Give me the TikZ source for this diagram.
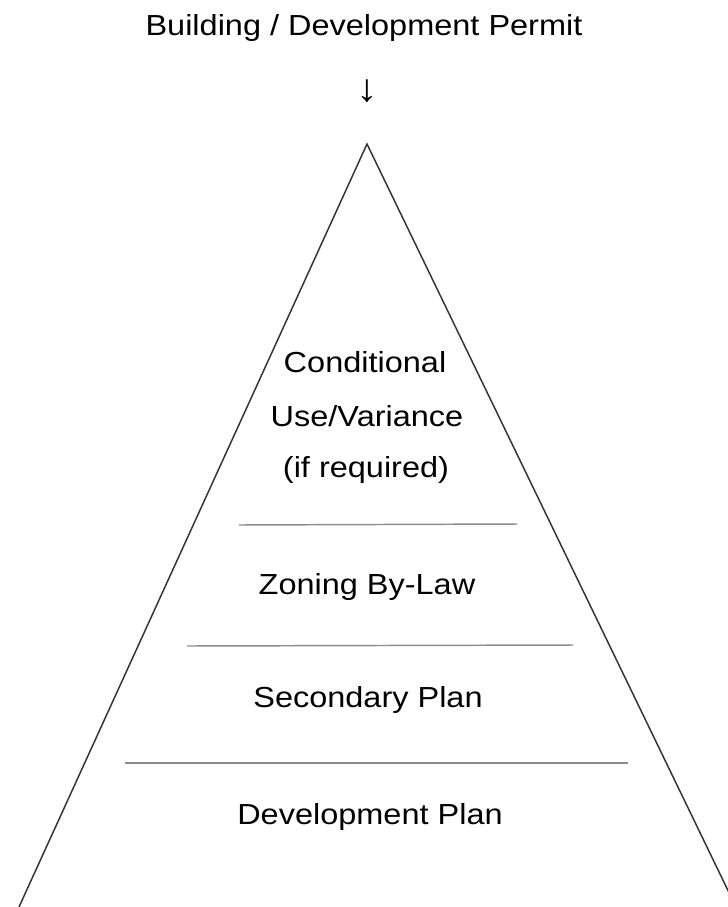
\documentclass[tikz,border=0pt]{standalone}
\usepackage{fontspec}
\setmainfont[FakeStretch=1.12]{Liberation Sans}
\begin{document}
\begin{tikzpicture}[x=0.75pt,y=-0.75pt,
  label/.style={font=\fontsize{21.75pt}{26pt}\selectfont, text=black, inner sep=0pt, anchor=base},
  side/.style={draw=black!80, line width=1.1pt},
  divider/.style={draw=black!45, line width=1.1pt}]
  \useasboundingbox[fill=white] (0,0) rectangle (728,907);

  % outline of the pyramid
  \coordinate (apex) at (367,144);
  \coordinate (bl) at (19,907);
  \coordinate (br) at (735,905);
  \draw[side] (bl) -- (apex) -- (br);

  % dividers between tiers
  \coordinate (d1l) at (239,525); \coordinate (d1r) at (517,524);
  \coordinate (d2l) at (187,646); \coordinate (d2r) at (573,645);
  \coordinate (d3l) at (125,763); \coordinate (d3r) at (628,763);
  \draw[divider] (d1l) -- (d1r);
  \draw[divider] (d2l) -- (d2r);
  \draw[divider] (d3l) -- (d3r);

  % headings
  \node[label] (permit) at (364,35) {Building / Development Permit};
  \node[label, font=\fontsize{29pt}{32pt}\selectfont] (arrow) at (367,101) {↓};

  % tier labels
  \node[label] (cond1) at (365,372) {Conditional};
  \node[label] (cond2) at (367,426) {Use/Variance};
  \node[label] (cond3) at (366,477) {(if required)};
  \node[label] (zoning) at (367,594) {Zoning By-Law};
  \node[label] (secondary) at (368,707) {Secondary Plan};
  \node[label] (devplan) at (370,824) {Development Plan};
\end{tikzpicture}
\end{document}
